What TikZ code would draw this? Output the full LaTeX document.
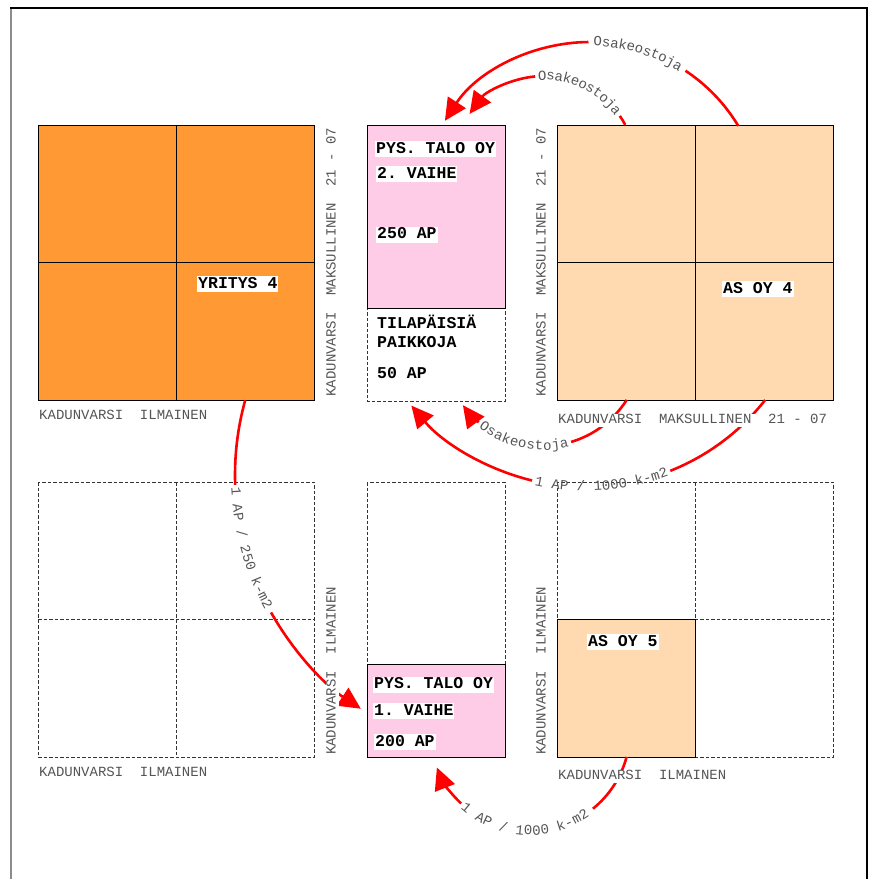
\documentclass[tikz,border=0pt]{standalone}
\usepackage{fontspec}
\setmonofont{Liberation Mono}
\usetikzlibrary{arrows.meta,decorations.text}
\definecolor{orng}{HTML}{FF9933}
\definecolor{peach}{HTML}{FFDAB0}
\definecolor{pinkc}{HTML}{FFCCE8}
\definecolor{labgray}{HTML}{555555}
\newcommand{\lblfont}{\fontsize{16.5}{18}\selectfont\ttfamily\bfseries}
\newcommand{\grayfont}{\fontsize{14}{16}\selectfont\ttfamily}
\begin{document}
\begin{tikzpicture}[x=1pt,y=1pt,
  grid/.style={draw=black!80, dash pattern=on 3.5pt off 2pt, line width=0.7pt},
  cell/.style={draw=black, line width=0.8pt},
  blbl/.style={font=\lblfont, fill=white, inner xsep=1pt, inner ysep=1pt, text height=11pt, text depth=3pt, anchor=west},
  plain/.style={font=\lblfont, inner xsep=1pt, inner ysep=1pt, text height=11pt, text depth=3pt, anchor=west},
  glbl/.style={font=\grayfont, text=labgray, fill=white, inner sep=1pt, text height=9pt, text depth=2pt},
  redline/.style={draw=red, line width=2.6pt},
  redarr/.style={draw=red, line width=2.6pt, -{Triangle[length=22pt,width=21pt]}},
  arctext/.style={decorate, decoration={text along path, text align=center, raise=-4pt, text color=labgray}}
]
\useasboundingbox (0,0) rectangle (875,-879);
% frame
\draw[black!45, line width=2pt] (11,-8) -- (11,-890);
\draw[black, line width=1.2pt] (10,-8) -- (867,-8) -- (867,-890);

% top-left block
\fill[orng] (38,-125) rectangle (314,-400);
\draw[cell] (38,-125) rectangle (314,-400);
\draw[cell] (176,-125) -- (176,-400);
\draw[cell] (38,-262) -- (314,-262);
% top-middle block
\fill[pinkc] (367,-125) rectangle (505,-308);
\draw[grid] (367,-125) rectangle (505,-401);
\draw[cell] (367,-125) rectangle (505,-308);
% top-right block
\fill[peach] (557,-125) rectangle (833,-400);
\draw[cell] (557,-125) rectangle (833,-400);
\draw[cell] (695,-125) -- (695,-400);
\draw[cell] (557,-262) -- (833,-262);
% bottom-left block
\draw[grid] (38,-482) rectangle (314,-757);
\draw[grid] (176,-482) -- (176,-757);
\draw[grid] (38,-619) -- (314,-619);
% bottom-middle block
\fill[pinkc] (367,-664) rectangle (505,-757);
\draw[grid] (367,-482) rectangle (505,-757);
\draw[cell] (367,-664) rectangle (505,-757);
% bottom-right block
\fill[peach] (557,-619) rectangle (695,-757);
\draw[grid] (557,-482) rectangle (833,-757);
\draw[grid] (695,-482) -- (695,-757);
\draw[grid] (557,-619) -- (833,-619);
\draw[cell] (557,-619) rectangle (695,-757);

% arc centres
\coordinate (c1) at (590,-215);
\coordinate (c2) at (544,-168);
\coordinate (c3) at (543,-347);
\coordinate (c4) at (586,-259);
\coordinate (c5) at (515,-475);
\coordinate (c6) at (530,-731);

% arc 1 (outer top)
\draw[redline] (c1) ++(31:173) arc[start angle=31,end angle=56.5,radius=173];
\path[arctext, decoration={text={|\grayfont|Osakeostoja}}] (c1) ++(92:173) arc[start angle=92,end angle=55,radius=173];
\draw[redarr] (c1) ++(90.5:173) arc[start angle=90.5,end angle=147,radius=173];
% arc 2 (inner top)
\draw[redline] (c2) ++(28:92) arc[start angle=28,end angle=34.5,radius=92];
\path[arctext, decoration={text={|\grayfont|Osakeostoja}}] (c2) ++(100:92) arc[start angle=100,end angle=30,radius=92];
\draw[redarr] (c2) ++(95.5:92) arc[start angle=95.5,end angle=144,radius=92];
% arc 3 (lower Osakeostoja)
\draw[redline] (c3) ++(-32.3:99) arc[start angle=-32.3,end angle=-73.5,radius=99];
\path[arctext, decoration={text={|\grayfont|Osakeostoja}}] (c3) ++(-135:99) arc[start angle=-135,end angle=-69,radius=99];
\draw[redarr] (c3) ++(-130.5:99) arc[start angle=-130.5,end angle=-144,radius=99];
% arc 4 (1 AP / 1000 k-m2, upper)
\draw[redline] (c4) ++(-38.2:228) arc[start angle=-38.2,end angle=-68.3,radius=228];
\path[arctext, decoration={text={|\grayfont|1 AP / 1000 k-m2}}] (c4) ++(-110:228) arc[start angle=-110,end angle=-62,radius=228];
\draw[redarr] (c4) ++(-103.7:228) arc[start angle=-103.7,end angle=-140,radius=228];
% arc 5 (1 AP / 250 k-m2)
\draw[redline] (c5) ++(164.5:280) arc[start angle=164.5,end angle=182,radius=280];
\path[arctext, decoration={text={|\grayfont|1 AP / 250 k-m2}}] (c5) ++(178:280) arc[start angle=178,end angle=213,radius=280];
\draw[redarr] (c5) ++(209.4:280) arc[start angle=209.4,end angle=236.6,radius=280];
% arc 6 (bottom)
\draw[redline] (c6) ++(-15:100) arc[start angle=-15,end angle=-51,radius=100];
\path[arctext, decoration={text={|\grayfont|1 AP / 1000 k-m2}}] (c6) ++(-140:100) arc[start angle=-140,end angle=-47,radius=100];
\draw[redarr] (c6) ++(-133.5:100) arc[start angle=-133.5,end angle=-158.6,radius=100];

% gray street labels
\node[glbl, anchor=west] (g1) at (38,-416) {KADUNVARSI~~ILMAINEN};
\node[glbl, anchor=west] (g2) at (557,-420) {KADUNVARSI~~MAKSULLINEN~~21 - 07};
\node[glbl, anchor=west] (g3) at (38,-773) {KADUNVARSI~~ILMAINEN};
\node[glbl, anchor=west] (g4) at (557,-776) {KADUNVARSI~~ILMAINEN};
\node[glbl, rotate=90] (g5) at (332,-262) {KADUNVARSI~~MAKSULLINEN~~21 - 07};
\node[glbl, rotate=90] (g6) at (542,-262) {KADUNVARSI~~MAKSULLINEN~~21 - 07};
\node[glbl, rotate=90, anchor=west] (g7) at (332,-756) {KADUNVARSI~~ILMAINEN};
\node[glbl, rotate=90, anchor=west] (g8) at (542,-756) {KADUNVARSI~~ILMAINEN};

% block labels
\node[blbl] (yr) at (197,-284) {YRITYS 4};
\node[blbl] (as4) at (722,-289) {AS OY 4};
\node[blbl] (as5) at (587,-642) {AS OY 5};
\node[blbl] (p2a) at (375,-149) {PYS. TALO OY};
\node[blbl] (p2b) at (376,-174) {2. VAIHE};
\node[blbl] (p2c) at (376,-234.5) {250 AP};
\node[plain] (t1) at (376,-324) {TILAPÄISIÄ};
\node[plain] (t2) at (376,-343) {PAIKKOJA};
\node[plain] (t3) at (376,-374) {50 AP};
\node[blbl] (p1a) at (373,-684.5) {PYS. TALO OY};
\node[blbl] (p1b) at (373,-711) {1. VAIHE};
\node[blbl] (p1c) at (374,-742) {200 AP};
\end{tikzpicture}
\end{document}
